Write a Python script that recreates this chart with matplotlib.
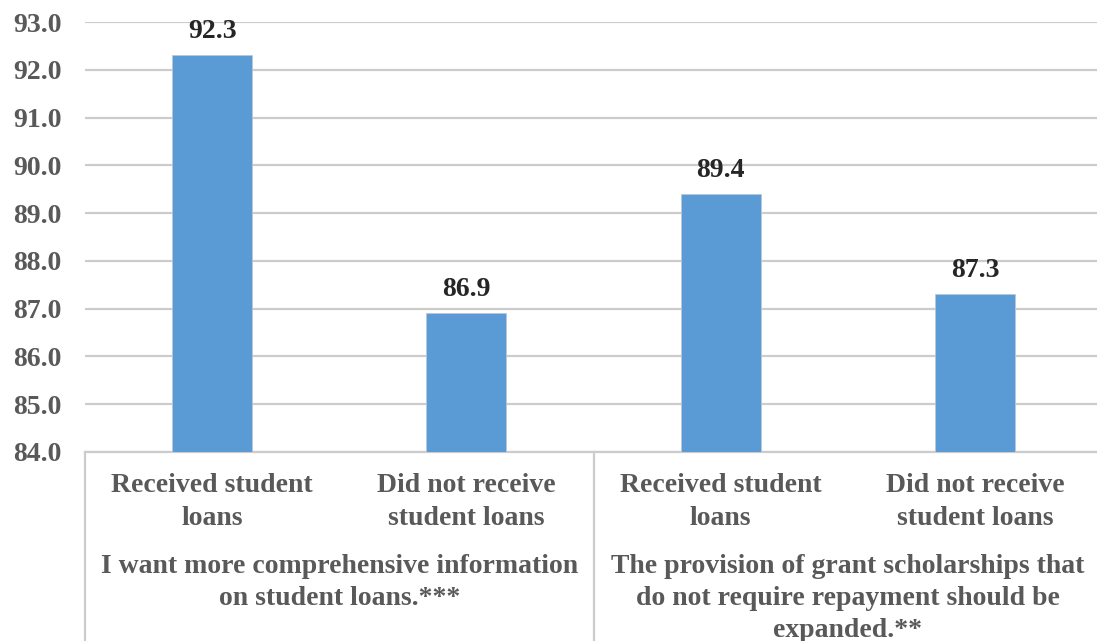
import matplotlib.pyplot as plt
import matplotlib.transforms as mtransforms

# survey results (%)
bar_labels = ["Received student\nloans", "Did not receive\nstudent loans",
              "Received student\nloans", "Did not receive\nstudent loans"]
values = [92.3, 86.9, 89.4, 87.3]
group_labels = ["I want more comprehensive information\non student loans.***",
                "The provision of grant scholarships that\ndo not require repayment should be\nexpanded.**"]
y_ticks = [84, 85, 86, 87, 88, 89, 90, 91, 92, 93]

plt.rcParams['font.family'] = ['Liberation Serif', 'DejaVu Serif']
plt.rcParams['font.weight'] = 'bold'

bar_color = '#5B9BD5'
grid_color = '#CCCCCC'
text_gray = '#595959'

fig = plt.figure(figsize=(10.97, 6.41), dpi=100)
W, H = 1097, 641
ax = fig.add_axes([85 / W, (H - 452) / H, 1017 / W, 430 / H])

x = list(range(len(values)))
ax.bar(x, values, width=0.315, color=bar_color, edgecolor='#B8C8D8',
       linewidth=0.6, zorder=3, bottom=0)
ax.set_ylim(84, 93)
ax.set_xlim(-0.5, 3.5)
ax.set_yticks(y_ticks)
ax.set_yticklabels([f"{v:.1f}" for v in y_ticks], fontsize=20,
                   color=text_gray, fontweight='bold')
ax.tick_params(axis='y', length=0, pad=17)
ax.tick_params(axis='x', length=0, labelbottom=False)
ax.yaxis.grid(True, color=grid_color, linewidth=1.6, zorder=0)
for s in ['left', 'right', 'top']:
    ax.spines[s].set_visible(False)
ax.spines['bottom'].set_color(grid_color)
ax.spines['bottom'].set_linewidth(1.6)

# value labels above bars
for xi, v in zip(x, values):
    ax.annotate(f"{v:.1f}", (xi, v), xytext=(0, 17), textcoords='offset points',
                ha='center', va='center', fontsize=20, fontweight='bold',
                color='#262626')

# two-level category axis
trans = mtransforms.blended_transform_factory(ax.transData, fig.transFigure)
for xd in [-0.5, 1.5, 3.5]:
    ax.plot([xd, xd], [(H - 452) / H, -0.05], transform=trans, color=grid_color,
            linewidth=1.6, clip_on=False)

for xi, lab in zip(x, bar_labels):
    ax.text(xi, (H - 502) / H, lab, transform=trans, ha='center', va='center',
            fontsize=20, color=text_gray, linespacing=1.38)

for gi, lab in enumerate(group_labels):
    ax.text(2 * gi + 0.5, (H - 554) / H, lab, transform=trans, ha='center',
            va='top', fontsize=20, color=text_gray, linespacing=1.38)

fig.savefig('out.png', dpi=100)
